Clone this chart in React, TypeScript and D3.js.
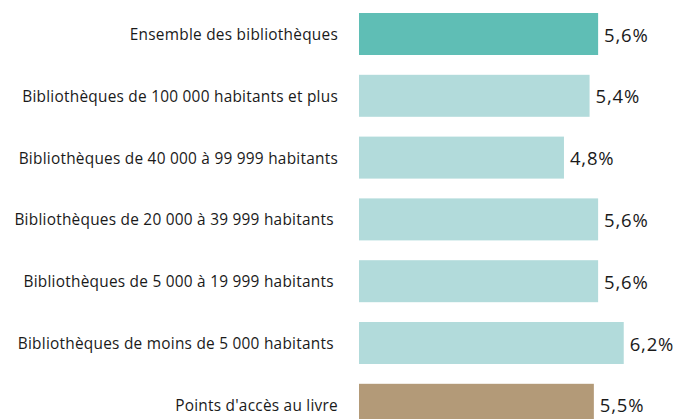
import React from "react";
import * as d3 from "d3";

const categories = [
  "Ensemble des bibliothèques",
  "Bibliothèques de 100 000 habitants et plus",
  "Bibliothèques de 40 000 à 99 999 habitants",
  "Bibliothèques de 20 000 à 39 999 habitants ",
  "Bibliothèques de 5 000 à 19 999 habitants ",
  "Bibliothèques de moins de 5 000 habitants ",
  "Points d'accès au livre",
];
const values = [5.6, 5.4, 4.8, 5.6, 5.6, 6.2, 5.5];
const valueLabels = ["5,6%", "5,4%", "4,8%", "5,6%", "5,6%", "6,2%", "5,5%"];
const colors = ["#5fbeb5", "#b2dbdb", "#b2dbdb", "#b2dbdb", "#b2dbdb", "#b2dbdb", "#b39a78"];

const W = 676;
const H = 419;

export default function App() {
  const x = d3.scaleLinear().domain([0, 1]).range([0, 42.7]);
  const x0 = 359;
  const y = d3
    .scaleBand<number>()
    .domain(d3.range(categories.length))
    .range([13, 13 + 61.8 * categories.length - 19.8])
    .paddingInner(19.8 / 61.8)
    .paddingOuter(0);
  return (
    <svg
      width={W}
      height={H}
      style={{ position: "absolute", left: 0, top: 0, background: "#fff" }}
    >
      {categories.map((c, i) => {
        const yb = y(i)!;
        const bw = y.bandwidth();
        const xe = x0 + x(values[i]);
        return (
          <g key={i}>
            <rect x={x0} y={yb} width={x(values[i])} height={bw} fill={colors[i]} />
            <text
              x={338}
              y={yb + bw / 2 + 0.5}
              textAnchor="end"
              dominantBaseline="central"
              fontFamily="'Open Sans', sans-serif"
              fontSize={15.4}
              letterSpacing={0.25}
              fill="#1a1a1a"
              style={{ whiteSpace: "pre" }}
            >
              {c}
            </text>
            <text
              x={xe + 6}
              y={yb + bw / 2}
              dominantBaseline="central"
              fontFamily="'Open Sans', sans-serif"
              fontSize={18.5}
              letterSpacing={0.8}
              fill="#1a1a1a"
            >
              {valueLabels[i]}
            </text>
          </g>
        );
      })}
    </svg>
  );
}
